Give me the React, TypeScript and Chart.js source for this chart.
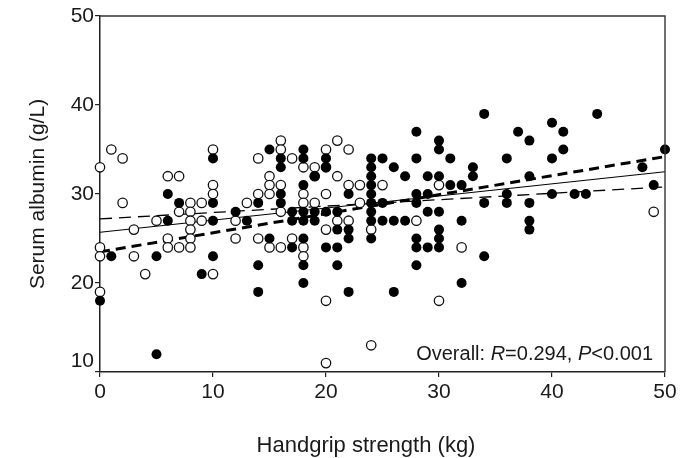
import React, { useEffect, useRef } from "react";
import { Chart, registerables } from "chart.js";

Chart.register(...registerables);

// Filled circles: [handgrip strength (kg), serum albumin (g/L)]
const filledPoints: [number, number][] = [
  [0, 18], [1, 23], [5, 12], [5, 23], [6, 30], [6, 27], [7, 29], [9, 21],
  [10, 34], [10, 29], [10, 27], [10, 23], [12, 28], [13, 27],
  [14, 29], [14, 22], [14, 19], [15, 35], [15, 25],
  [16, 34], [16, 33], [16, 30], [16, 29], [17, 28], [17, 27], [17, 24],
  [18, 35], [18, 34], [18, 31], [18, 28], [18, 27], [18, 25], [18, 22], [18, 20],
  [19, 32], [19, 28], [19, 27], [20, 34], [20, 33], [20, 28], [20, 24],
  [21, 28], [21, 26], [21, 24], [21, 22], [22, 30], [22, 26], [22, 25], [22, 19],
  [24, 34], [24, 33], [24, 32], [24, 31], [24, 30], [24, 29], [24, 28], [24, 27], [24, 25],
  [25, 34], [25, 29], [25, 27], [26, 33], [26, 27], [26, 19], [27, 32], [27, 27],
  [28, 37], [28, 34], [28, 30], [28, 29], [28, 25], [28, 24], [28, 22],
  [29, 32], [29, 30], [29, 28], [29, 24],
  [30, 36], [30, 35], [30, 32], [30, 28], [30, 26], [30, 25], [30, 24],
  [31, 34], [31, 31], [32, 31], [32, 27], [32, 20], [33, 33], [33, 32],
  [34, 39], [34, 29], [34, 23], [36, 34], [36, 30], [36, 29], [37, 37],
  [38, 36], [38, 32], [38, 29], [38, 27], [38, 26],
  [40, 38], [40, 34], [40, 30], [41, 37], [41, 35], [42, 30], [43, 30], [44, 39],
  [48, 33], [49, 31], [50, 35],
];

// Open circles: [handgrip strength (kg), serum albumin (g/L)]
const openPoints: [number, number][] = [
  [0, 33], [0, 24], [0, 23], [0, 19], [1, 35], [2, 34], [2, 29], [3, 26], [3, 23], [4, 21],
  [5, 27], [6, 32], [6, 25], [6, 24], [7, 32], [7, 28], [7, 24],
  [8, 29], [8, 28], [8, 27], [8, 26], [8, 25], [8, 24], [9, 29], [9, 27],
  [10, 35], [10, 31], [10, 30], [10, 21], [12, 27], [12, 25], [13, 29],
  [14, 34], [14, 30], [14, 25], [15, 32], [15, 31], [15, 30], [15, 24],
  [16, 36], [16, 35], [16, 31], [16, 28], [16, 24], [17, 34], [17, 25],
  [18, 33], [18, 30], [18, 29], [18, 24], [18, 23], [19, 33], [19, 32], [19, 29],
  [20, 35], [20, 33], [20, 30], [20, 26], [20, 18], [20, 11],
  [21, 36], [21, 32], [21, 27], [22, 35], [22, 31], [22, 27], [23, 31], [23, 29],
  [24, 26], [24, 13], [25, 31], [28, 27], [30, 31], [30, 18], [32, 24], [49, 28],
];

// Regression lines, evaluated at the ends of the x range
const lineX = [0, 50];
const thickDashedY = [23.5, 34.2];
const solidY = [25.7, 32.5];
const thinDashedY = [27.2, 30.8];

const xTicks = [0, 10, 20, 30, 40, 50];
const yTicks = [10, 20, 30, 40, 50];

const xTitle = "Handgrip strength (kg)";
const yTitle = "Serum albumin (g/L)";
const statParts: [string, boolean][] = [
  ["Overall: ", false], ["R", true], ["=0.294, ", false], ["P", true], ["<0.001", false],
];

const FONT = "'Liberation Sans', Arial, sans-serif";
const INK = "#1a1a1a";

const overlayPlugin = {
  id: "overlay",
  afterDraw(chart: any) {
    const { ctx, chartArea } = chart;
    ctx.save();
    // frame (top and right)
    ctx.strokeStyle = "#333";
    ctx.lineWidth = 1.4;
    ctx.beginPath();
    ctx.moveTo(chartArea.left, chartArea.top);
    ctx.lineTo(chartArea.right, chartArea.top);
    ctx.lineTo(chartArea.right, chartArea.bottom);
    ctx.stroke();

    // statistics text
    ctx.fillStyle = INK;
    ctx.textBaseline = "alphabetic";
    ctx.textAlign = "left";
    const widths = statParts.map(([t, it]) => {
      ctx.font = `${it ? "italic " : ""}20px ${FONT}`;
      return ctx.measureText(t).width;
    });
    const total = widths.reduce((a, b) => a + b, 0);
    let x = chartArea.right - 12 - total;
    const y = chartArea.bottom - 12;
    statParts.forEach(([t, it], i) => {
      ctx.font = `${it ? "italic " : ""}20px ${FONT}`;
      ctx.fillText(t, x, y);
      x += widths[i];
    });

    // x axis title
    ctx.font = `22px ${FONT}`;
    ctx.textAlign = "center";
    ctx.fillText(xTitle, 366, chart.height - 6);
    ctx.restore();
  },
};

export default function App() {
  const ref = useRef<HTMLCanvasElement | null>(null);

  useEffect(() => {
    if (!ref.current) return;
    const toXY = (p: [number, number]) => ({ x: p[0], y: p[1] });
    const lineData = (ys: number[]) => lineX.map((x, i) => ({ x, y: ys[i] }));
    const chart = new Chart(ref.current, {
      type: "scatter",
      data: {
        datasets: [
          {
            label: "filled",
            data: filledPoints.map(toXY),
            pointRadius: 5,
            pointBackgroundColor: "#000",
            pointBorderColor: "#000",
            pointBorderWidth: 0,
            clip: false,
          },
          {
            label: "open",
            data: openPoints.map(toXY),
            pointRadius: 4.7,
            pointBackgroundColor: "#fff",
            pointBorderColor: "#111",
            pointBorderWidth: 1.3,
            clip: false,
          },
          {
            type: "line",
            label: "thick dashed",
            data: lineData(thickDashedY),
            borderColor: "#000",
            borderWidth: 3,
            borderDash: [10, 6],
            pointRadius: 0,
            fill: false,
          },
          {
            type: "line",
            label: "solid",
            data: lineData(solidY),
            borderColor: "#000",
            borderWidth: 1.2,
            pointRadius: 0,
            fill: false,
          },
          {
            type: "line",
            label: "thin dashed",
            data: lineData(thinDashedY),
            borderColor: "#000",
            borderWidth: 1.3,
            borderDash: [12, 7],
            pointRadius: 0,
            fill: false,
          },
        ] as any,
      },
      options: {
        responsive: false,
        animation: false,
        layout: { padding: { top: 16, right: 25, left: 0, bottom: 0 } },
        plugins: { legend: { display: false }, tooltip: { enabled: false } },
        scales: {
          x: {
            type: "linear",
            min: xTicks[0],
            max: xTicks[xTicks.length - 1],
            afterBuildTicks: (s: any) => { s.ticks = xTicks.map((v) => ({ value: v })); },
            afterFit: (s: any) => { s.height = 86; },
            ticks: {
              font: { family: FONT, size: 21 },
              color: INK,
              padding: 3,
              maxRotation: 0,
            },
            grid: { drawOnChartArea: false, drawTicks: true, tickLength: 5, color: "#222", lineWidth: 1.2 },
            border: { display: true, color: "#222", width: 1.5 },
          },
          y: {
            type: "linear",
            min: yTicks[0],
            max: yTicks[yTicks.length - 1],
            afterBuildTicks: (s: any) => { s.ticks = yTicks.map((v) => ({ value: v })); },
            afterFit: (s: any) => { s.width = 100; },
            ticks: {
              font: { family: FONT, size: 21, lineHeight: 1.05 },
              color: INK,
              padding: 1,
              callback: (v: any) => (v === yTicks[0] ? [String(v), ""] : String(v)),
            },
            title: {
              display: true,
              text: yTitle,
              font: { family: FONT, size: 21 },
              color: INK,
              padding: { top: 26, bottom: 0 },
            },
            grid: { drawOnChartArea: false, drawTicks: true, tickLength: 5, color: "#222", lineWidth: 1.2 },
            border: { display: true, color: "#222", width: 1.5 },
          },
        },
      },
      plugins: [overlayPlugin],
    });
    return () => chart.destroy();
  }, []);

  return (
    <div style={{ position: "fixed", left: 0, top: 0, width: 690, height: 458, background: "#fff" }}>
      <canvas ref={ref} width={690} height={458} style={{ display: "block" }} />
    </div>
  );
}
